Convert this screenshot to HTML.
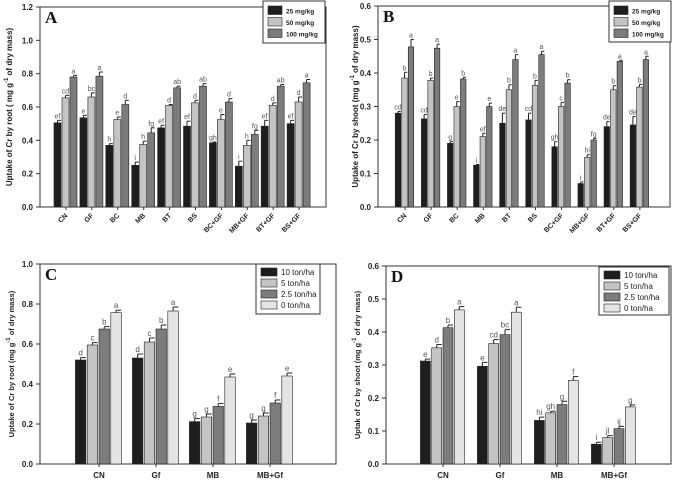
<!DOCTYPE html>
<html><head><meta charset="utf-8"><style>
body{margin:0;background:#fff}
svg{display:block;font-family:"Liberation Sans",Arial,sans-serif}
</style></head><body>
<svg id="chart" width="676" height="485"></svg>
<script>
// Panel A data
const catsAB = ["CN","GF","BC","MB","BT","BS","BC+GF","MB+GF","BT+GF","BS+GF"];
const seriesAB = ["25 mg/kg","50 mg/kg","100 mg/kg"];
const aVals25 = [0.505,0.535,0.37,0.25,0.475,0.485,0.385,0.245,0.485,0.5];
const aVals50 = [0.655,0.66,0.525,0.375,0.61,0.625,0.525,0.37,0.61,0.63];
const aVals100 = [0.78,0.785,0.615,0.445,0.715,0.725,0.63,0.435,0.725,0.745];
const aErr25 = [0.015,0.015,0.01,0.02,0.015,0.03,0.005,0.03,0.035,0.02];
const aErr50 = [0.015,0.025,0.015,0.02,0.005,0.015,0.03,0.03,0.015,0.03];
const aErr100 = [0.01,0.025,0.025,0.03,0.01,0.015,0.02,0.025,0.01,0.02];
const aLet25 = ["ef","e","h","i","ef","ef","gh","i","ef","ef"];
const aLet50 = ["cd","bc","e","h","d","d","e","h","d","d"];
const aLet100 = ["a","a","d","fg","ab","ab","d","fg","ab","a"];
const aTicks = [0,0.2,0.4,0.6,0.8,1.0,1.2];
// Panel B data
const bVals25 = [0.28,0.263,0.19,0.125,0.25,0.26,0.18,0.07,0.24,0.245];
const bVals50 = [0.385,0.378,0.3,0.21,0.35,0.363,0.3,0.148,0.35,0.358];
const bVals100 = [0.478,0.474,0.382,0.3,0.44,0.455,0.37,0.2,0.435,0.44];
const bErr25 = [0.005,0.013,0.005,0.002,0.03,0.02,0.015,0.005,0.015,0.025];
const bErr50 = [0.017,0.007,0.015,0.01,0.015,0.015,0.012,0.008,0.012,0.008];
const bErr100 = [0.022,0.012,0.005,0.01,0.015,0.01,0.01,0.005,0.003,0.01];
const bLet25 = ["cd","cd","g","i","de","cd","gh","i","de","de"];
const bLet50 = ["b","b","e","ef","b","b","c","hi","b","b"];
const bLet100 = ["a","a","b","e","a","a","b","fg","a","a"];
const bTicks = [0,0.1,0.2,0.3,0.4,0.5,0.6];
// Panel C data
const catsCD = ["CN","Gf","MB","MB+Gf"];
const seriesCD = ["10 ton/ha","5 ton/ha","2.5 ton/ha","0 ton/ha"];
const cVals10 = [0.52,0.53,0.212,0.205];
const cVals5 = [0.595,0.61,0.235,0.24];
const cVals25 = [0.675,0.675,0.288,0.305];
const cVals0 = [0.757,0.765,0.435,0.44];
const cErr = [0.012,0.02,0.015,0.015];
const cLet10 = ["d","d","g","g"];
const cLet5 = ["c","c","g","g"];
const cLet25 = ["b","b","f","f"];
const cLet0 = ["a","a","e","e"];
const cTicks = [0,0.2,0.4,0.6,0.8,1.0];
// Panel D data
const dVals10 = [0.312,0.296,0.132,0.06];
const dVals5 = [0.352,0.365,0.155,0.08];
const dVals25 = [0.413,0.392,0.18,0.107];
const dVals0 = [0.467,0.46,0.253,0.173];
const dLet10 = ["e","e","hi","i"];
const dLet5 = ["d","cd","gh","jl"];
const dLet25 = ["b","bc","g","ij"];
const dLet0 = ["a","a","f","g"];
const dTicks = [0,0.1,0.2,0.3,0.4,0.5,0.6];

const NS="http://www.w3.org/2000/svg";
const svg=document.getElementById('chart');
function mk(tag,attrs,parent,text){const e=document.createElementNS(NS,tag);for(const k in attrs)e.setAttribute(k,attrs[k]);if(text!==undefined)e.textContent=text;(parent||svg).appendChild(e);return e;}

function panel(p){
  const g=mk('g',{});
  
  
  const ymax=p.ticks[p.ticks.length-1];
  const Y=v=>p.bottom-(v/ymax)*(p.bottom-p.top);
  const X=i=>p.c0+i*p.step;
  const frame=mk('rect',{x:p.left,y:p.top,width:p.right-p.left,height:p.bottom-p.top,fill:'none',stroke:'#333','stroke-width':1},g);
  
  p.ticks.forEach(t=>{
    mk('line',{x1:p.left-4,x2:p.left,y1:Y(t),y2:Y(t),stroke:'#333'},g);
    const tl=mk('text',{x:p.left-7,y:Y(t)+3,'font-size':8,'font-weight':'bold','text-anchor':'end',fill:'#222'},g,t.toFixed(1));
    
  });
  const n=p.vals.length;
  p.cats.forEach((c,i)=>{
    const cx=X(i);
    for(let s=0;s<n;s++){
      const v=p.vals[s][i];
      const bx=cx+(s-n/2)*(p.bw+p.gap);
      const r=mk('rect',{x:bx,y:Y(v),width:p.bw,height:p.bottom-Y(v),fill:p.colors[s],stroke:'#222','stroke-width':0.6},g);
      
      
      const e=p.errs[s][i];
      const mx=bx+p.bw/2;
      mk('line',{x1:mx,x2:mx,y1:Y(v),y2:Y(v+e),stroke:'#222'},g);
      mk('line',{x1:mx,x2:mx+p.bw/2,y1:Y(v+e),y2:Y(v+e),stroke:'#222'},g);
      const lt=mk('text',{x:mx,y:Y(v+e)-2,'font-size':p.lfs,'text-anchor':'middle',fill:'#555'},g,p.lets[s][i]);
      
    }
    mk('line',{x1:cx,x2:cx,y1:p.bottom,y2:p.bottom+3,stroke:'#333'},g);
    let xl;
    if(p.rot){
      xl=mk('text',{x:cx+2,y:p.bottom+9,'font-size':7,'font-weight':'bold','text-anchor':'end',fill:'#222',transform:`rotate(-45 ${cx+2} ${p.bottom+9})`},g,c);
    } else {
      xl=mk('text',{x:cx,y:p.bottom+14,'font-size':8,'font-weight':'bold','text-anchor':'middle',fill:'#222'},g,c);
    }
    
  });
  const my=(p.top+p.bottom)/2;
  const yt=mk('text',{x:p.ytx,y:my,'font-size':p.yfs,'font-weight':'bold','text-anchor':'middle',fill:'#222',transform:`rotate(-90 ${p.ytx} ${my})`},g);
  
  yt.innerHTML=p.ytitle;
  const pl=mk('text',{x:p.left+5,y:p.top+16,'font-size':17,'font-weight':'bold','font-family':'Liberation Serif,serif',fill:'#111'},g,p.id);
  
  const L=p.leg;
  const lb=mk('rect',{x:L.x,y:L.y,width:L.w,height:L.h,fill:'#fff',stroke:'#333'},g);
  
  p.series.forEach((s,k)=>{
    const yy=L.y+L.pad+k*L.row;
    const sw=mk('rect',{x:L.x+5,y:yy,width:L.sw,height:L.row-3,fill:p.colors[k],stroke:'#222','stroke-width':0.6},g);
    
    const t=mk('text',{x:L.x+L.sw+9,y:yy+L.row-4,'font-size':L.fs,'font-weight':L.bold?'bold':'normal',fill:'#222'},g,s);
    
  });
}
const c3=['#1e1e1e','#c4c4c4','#7c7c7c'];
const c4=['#1e1e1e','#c4c4c4','#7c7c7c','#e4e4e4'];
panel({id:'A',left:40,right:326,top:7,bottom:207,c0:66,step:25.9,bw:7,gap:1,cats:catsAB,series:seriesAB,colors:c3,
 vals:[aVals25,aVals50,aVals100],errs:[aErr25,aErr50,aErr100],lets:[aLet25,aLet50,aLet100],ticks:aTicks,rot:true,lfs:7,
 ytx:12,yfs:8,ytitle:'Uptake of Cr by root ( mg g<tspan dy="-4" font-size="6">-1</tspan><tspan dy="4"> of dry mass)</tspan>',
 leg:{x:263,y:1,w:62,h:42,pad:5,row:11.5,sw:14,fs:6.5,bold:true}});
panel({id:'B',left:378,right:670,top:6,bottom:207,c0:405,step:26.1,bw:5.5,gap:1,cats:catsAB,series:seriesAB,colors:c3,
 vals:[bVals25,bVals50,bVals100],errs:[bErr25,bErr50,bErr100],lets:[bLet25,bLet50,bLet100],ticks:bTicks,rot:true,lfs:7,
 ytx:358,yfs:8,ytitle:'Uptake of Cr by shoot (mg g<tspan dy="-4" font-size="6">-1</tspan><tspan dy="4"> of dry mass)</tspan>',
 leg:{x:609,y:1,w:62,h:41,pad:5,row:11.5,sw:14,fs:6.5,bold:true}});
panel({id:'C',left:40,right:336,top:264,bottom:464,c0:99,step:57,bw:10.5,gap:1.3,cats:catsCD,series:seriesCD,colors:c4,
 vals:[cVals10,cVals5,cVals25,cVals0],errs:[cErr,cErr,cErr,cErr],lets:[cLet10,cLet5,cLet25,cLet0],ticks:cTicks,rot:false,lfs:8,
 ytx:14,yfs:7.5,ytitle:'Uptake of Cr by root (mg g<tspan dy="-4" font-size="6">-1</tspan><tspan dy="4"> of dry mass)</tspan>',
 leg:{x:256,y:264,w:64,h:50,pad:4,row:11,sw:16,fs:8,bold:false}});
panel({id:'D',left:386,right:671,top:266,bottom:464,c0:443,step:57,bw:10,gap:1.3,cats:catsCD,series:seriesCD,colors:c4,
 vals:[dVals10,dVals5,dVals25,dVals0],errs:[[0.006,0.012,0.01,0.006],[0.01,0.012,0.005,0.006],[0.008,0.015,0.01,0.007],[0.01,0.015,0.012,0.006]],lets:[dLet10,dLet5,dLet25,dLet0],ticks:dTicks,rot:false,lfs:8,
 ytx:360,yfs:7.5,ytitle:'Uptak of Cr by shoot (mg g<tspan dy="-4" font-size="6">-1</tspan><tspan dy="4"> of dry mass)</tspan>',
 leg:{x:599,y:267,w:70,h:48,pad:4,row:11,sw:16,fs:8,bold:false}});
</script>
</body></html>
